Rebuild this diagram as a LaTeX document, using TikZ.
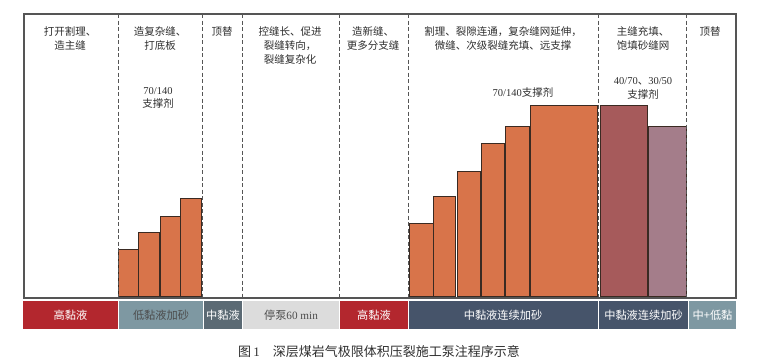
\documentclass[tikz,border=0pt]{standalone}
\usepackage{fontspec}
\setmainfont{Liberation Serif}
\newfontfamily\cjk{Noto Sans CJK SC}
\definecolor{frameC}{HTML}{555555}
\definecolor{barC}{HTML}{D8744A}
\definecolor{roseC}{HTML}{A65A5B}
\definecolor{mauveC}{HTML}{A47D8A}
\definecolor{edgeC}{HTML}{3A2A22}
\definecolor{redC}{HTML}{B3272E}
\definecolor{steelC}{HTML}{7E98A2}
\definecolor{slateC}{HTML}{5B6A74}
\definecolor{lightC}{HTML}{DCDCDC}
\definecolor{navyC}{HTML}{46546A}
\definecolor{txtC}{HTML}{2E2E2E}
\tikzset{
  toptxt/.style={anchor=north, inner sep=0pt, align=center, text=txtC,
    font=\cjk\fontsize{10.5}{13.8}\selectfont},
  divline/.style={draw=frameC, line width=0.9pt, dash pattern=on 4pt off 2.5pt},
  bar/.style={draw=edgeC, line width=0.9pt, fill=barC},
  segtxt/.style={inner sep=0pt, font=\cjk\fontsize{11.2}{13}\selectfont},
}
\begin{document}
\begin{tikzpicture}[x=1pt,y=-1pt]
\useasboundingbox (0,0) rectangle (763,362);
% bars left group
\draw[bar] (118,296) rectangle (138,249);
\draw[bar] (138.5,296) rectangle (159,232.5);
\draw[bar] (160,296) rectangle (180,216);
\draw[bar] (180,296) rectangle (201,198.5);
% bars right group
\draw[bar] (409,296) rectangle (433,223.5);
\draw[bar] (433,296) rectangle (455.5,196.5);
\draw[bar] (457,296) rectangle (480,171);
\draw[bar] (481.5,296) rectangle (504.5,143.5);
\draw[bar] (505.5,296) rectangle (529.5,126);
\draw[bar] (530.5,296) rectangle (597.5,105);
\draw[bar, fill=roseC] (600,296) rectangle (647.5,105);
\draw[bar, fill=mauveC] (648.5,296) rectangle (686,126);
% dashed dividers
\foreach \xx in {118,202,242,339,408,598,686}
  \draw[divline] (\xx,14) -- (\xx,297);
% frame
\draw[frameC, line width=1.2pt] (24,298) -- (24,14) -- (736,14) -- (736,298) -- cycle;
% top texts
\node[toptxt] (t1) at (70,26.5) {打开割理、\\造主缝};
\node[toptxt] (t2) at (160,26.5) {造复杂缝、\\打底板};
\node[toptxt] (t3) at (222,26.5) {顶替};
\node[toptxt] (t4) at (290,26.5) {控缝长、促进\\裂缝转向，\\裂缝复杂化};
\node[toptxt] (t5) at (373,26.5) {造新缝、\\更多分支缝};
\node[toptxt] (t6) at (503,26.5) {割理、裂隙连通，复杂缝网延伸，\\微缝、次级裂缝充填、远支撑};
\node[toptxt] (t7) at (643,26.5) {主缝充填、\\饱填砂缝网};
\node[toptxt] (t8) at (710,26.5) {顶替};
\node[toptxt] (p1) at (158,87) {{\rmfamily 70/140}\\支撑剂};
\node[toptxt] (p2) at (523,87.5) {{\rmfamily 70/140}支撑剂};
\node[toptxt] (p3) at (643,77.5) {{\rmfamily 40/70}、{\rmfamily 30/50}\\支撑剂};
% bottom segments
\fill[redC] (23,301) rectangle (118,329);
\fill[steelC] (119,301) rectangle (203,329);
\fill[slateC] (204,301) rectangle (242,329);
\fill[lightC] (243,301) rectangle (339,329);
\fill[redC] (340,301) rectangle (407.5,329);
\fill[navyC] (408.5,301) rectangle (598,329);
\fill[navyC] (599,301) rectangle (688,329);
\fill[steelC] (689,301) rectangle (736,329);
\node[segtxt, text=white] (b1) at (70.5,315) {高黏液};
\node[segtxt, text=txtC!85] (b2) at (161,315) {低黏液加砂};
\node[segtxt, text=white] (b3) at (223,315) {中黏液};
\node[segtxt, text=txtC!85] (b4) at (291,315) {停泵{\rmfamily 60 min}};
\node[segtxt, text=white] (b5) at (374,315) {高黏液};
\node[segtxt, text=white] (b6) at (503,315) {中黏液连续加砂};
\node[segtxt, text=white] (b7) at (643.5,315) {中黏液连续加砂};
\node[segtxt, text=white] (b8) at (712.5,315) {中+低黏};
% caption
\node[inner sep=0pt, text=txtC, font=\cjk\fontsize{13}{15}\selectfont] (cap) at (379,352)
  {图{\rmfamily\,1}\hspace{1em}深层煤岩气极限体积压裂施工泵注程序示意};
\end{tikzpicture}
\end{document}
